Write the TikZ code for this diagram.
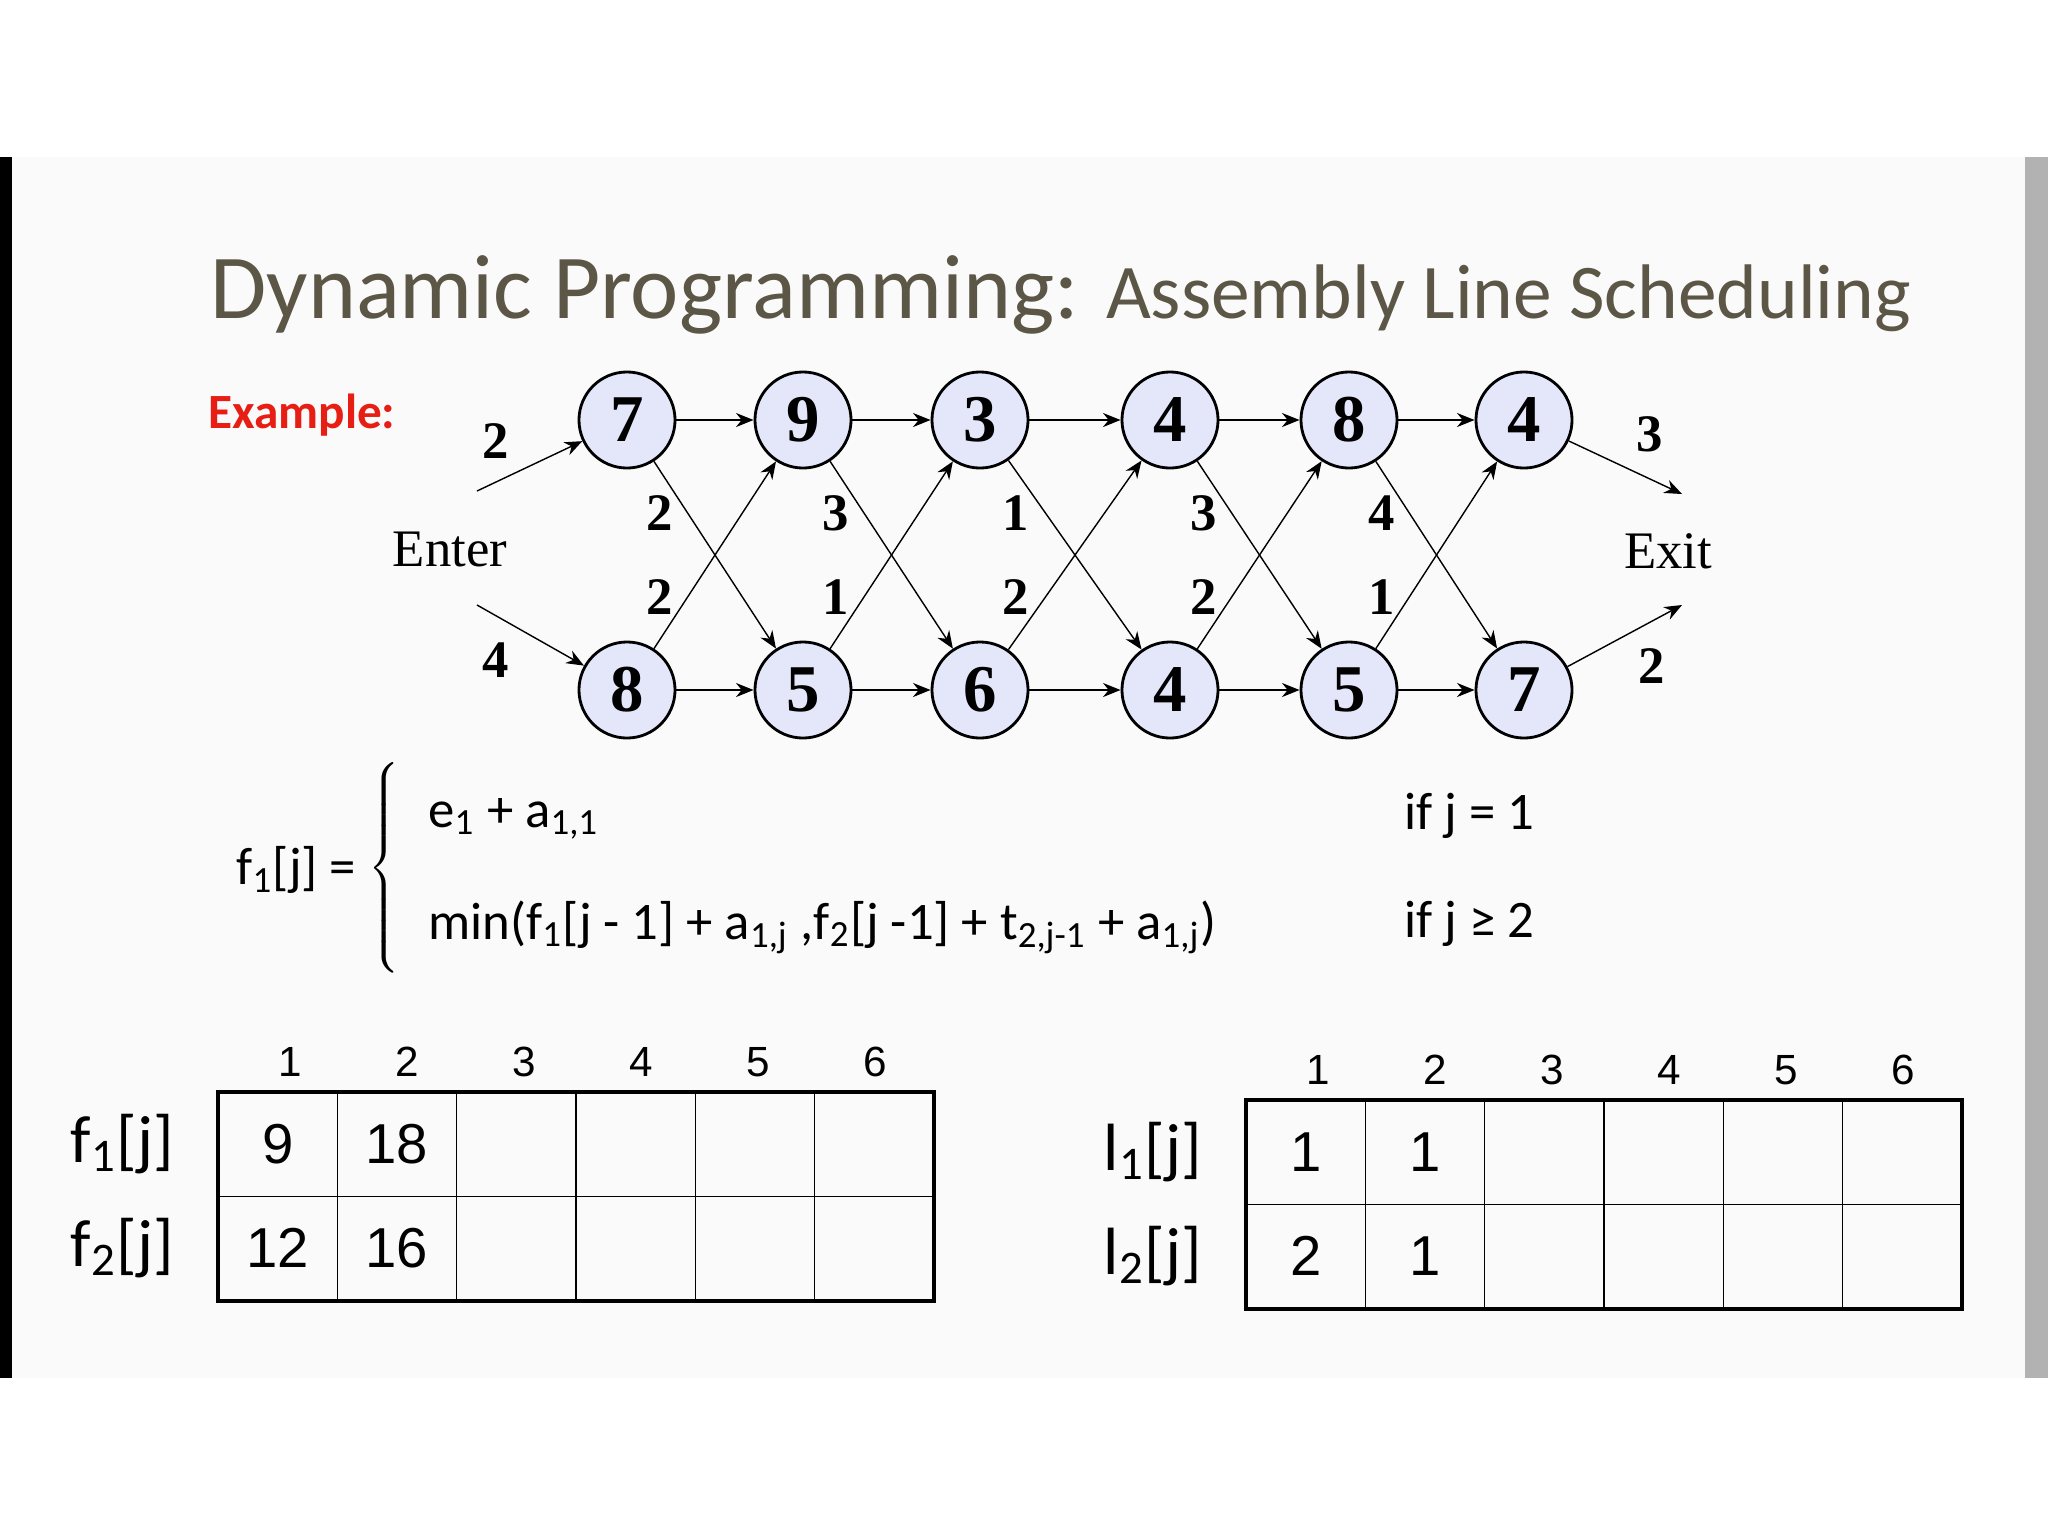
\documentclass[tikz,border=0pt]{standalone}
\usepackage{fontspec}
\setmainfont{Liberation Serif}
\newfontfamily\titlefont{Carlito}
\newfontfamily\handfont{Carlito}
\newfontfamily\tablefont{Liberation Sans}
\usetikzlibrary{arrows.meta, positioning}
\definecolor{SlideColor}{RGB}{250,250,250}
\definecolor{TitleColor}{RGB}{92,86,70}
\definecolor{StationColor}{RGB}{228,230,250}
\definecolor{ExampleColor}{RGB}{230,30,20}
\tikzset{
  station/.style={circle, draw, thick, fill=StationColor, minimum size=0.96cm, inner sep=0pt, font=\fontsize{19}{19}\selectfont\bfseries},
  line/.style={-{Stealth[length=5pt,width=4pt]}, thin},
  weight/.style={font=\fontsize{15}{15}\selectfont\bfseries},
  endlabel/.style={font=\fontsize{15}{15}\selectfont},
  cell/.style={font=\tablefont\fontsize{16}{16}\selectfont},
  colhead/.style={font=\tablefont\fontsize{12}{12}\selectfont},
  rowhead/.style={font=\handfont\fontsize{19}{19}\selectfont}
}
\begin{document}
\begin{tikzpicture}[x=0.01cm,y=-0.01cm]
  \useasboundingbox (0,0) rectangle (2048,1536);
  % slide
  \fill[SlideColor] (12,157) rectangle (2025,1378);
  \fill[black] (0,157) rectangle (12,1378);
  \fill[gray!60] (2025,157) rectangle (2048,1378);

  % title
  \node[anchor=base west, TitleColor, font=\titlefont\fontsize{26}{26}\selectfont] (title) at (198,318)
    {Dynamic Programming: {\fontsize{22}{22}\selectfont Assembly Line Scheduling}};
  \node[anchor=base west, ExampleColor, font=\titlefont\fontsize{14}{14}\selectfont\bfseries] (example) at (196,428) {Example:};

  % stations
  \foreach \x/\a/\b [count=\i] in {627/7/8, 803/9/5, 980/3/6, 1170/4/4, 1349/8/5, 1524/4/7} {
    \node[station] (t\i) at (\x,420) {\a};
    \node[station] (b\i) at (\x,690) {\b};
  }
  \node[endlabel] (enter) at (450,549) {Enter};
  \node[endlabel] (exit) at (1668,551) {Exit};
  \coordinate (e1) at (477,491);
  \coordinate (e2) at (477,605);
  \coordinate (x1) at (1682,494);
  \coordinate (x2) at (1682,605);

  % connectors
  \draw[line] (e1) -- (t1);
  \draw[line] (e2) -- (b1);
  \draw[line] (t6) -- (x1);
  \draw[line] (b6) -- (x2);
  \foreach \i [evaluate=\i as \j using int(\i+1)] in {1,...,5} {
    \draw[line] (t\i) -- (t\j);
    \draw[line] (b\i) -- (b\j);
    \draw[line] (t\i) -- (b\j);
    \draw[line] (b\i) -- (t\j);
  }

  % weights
  \node[weight] (w0) at (496,441) {2};
  \node[weight] (w7) at (496,660) {4};
  \node[weight] (w8) at (1650,434) {3};
  \node[weight] (w9) at (1652,666) {2};
  \foreach \x/\u/\l [count=\i] in {660/2/2, 836/3/1, 1016/1/2, 1204/3/2, 1382/4/1} {
    \node[weight] (u\i) at (\x,513) {\u};
    \node[weight] (l\i) at (\x,597) {\l};
  }

  % recurrence
  \node[anchor=west, font=\handfont\fontsize{15}{15}\selectfont] (fdef) at (224,870) {f\textsubscript{1}[j] =};
  \node[anchor=west, inner sep=0pt] (brace) at (368,868) {\fontsize{12}{12}\selectfont$\left\{\rule{0pt}{1.15cm}\right.$};
  \begin{scope}[every node/.style={anchor=west, font=\handfont\fontsize{15}{15}\selectfont}]
    \node (case1) at (416,819) {e\textsubscript{1} + a\textsubscript{1,1}};
    \node (case2) at (416,927) {min(f\textsubscript{1}[j - 1] + a\textsubscript{1,j} ,f\textsubscript{2}[j -1] + t\textsubscript{2,j-1} + a\textsubscript{1,j})};
    \node (cond1) at (1392,816) {if j = 1};
    \node (cond2) at (1392,924) {if j ≥ 2};
  \end{scope}

  % tables
  \foreach \ox/\oy/\name/\lab/\va/\vb/\vc/\vd in {218/1092/f/f/9/18/12/16, 1246/1100/l/l/1/1/2/1} {
    \foreach \c in {1,...,5}
      \draw[thin] (\ox+119.3*\c,\oy) -- (\ox+119.3*\c,\oy+209);
    \draw[thin] (\ox,\oy+104.5) -- (\ox+716,\oy+104.5);
    \draw[very thick] (\ox,\oy) rectangle (\ox+716,\oy+209);
    \foreach \c in {1,...,6}
      \node[colhead] (\name h\c) at (\ox+117*\c-45,\oy-30) {\c};
    \node[rowhead, anchor=east] (\name r1) at (\ox-32,\oy+52) {\lab\textsubscript{1}[j]};
    \node[rowhead, anchor=east] (\name r2) at (\ox-32,\oy+156) {\lab\textsubscript{2}[j]};
    \node[cell] (\name c11) at (\ox+60,\oy+52) {\va};
    \node[cell] (\name c12) at (\ox+179,\oy+52) {\vb};
    \node[cell] (\name c21) at (\ox+60,\oy+156) {\vc};
    \node[cell] (\name c22) at (\ox+179,\oy+156) {\vd};
  }
\end{tikzpicture}
\end{document}
